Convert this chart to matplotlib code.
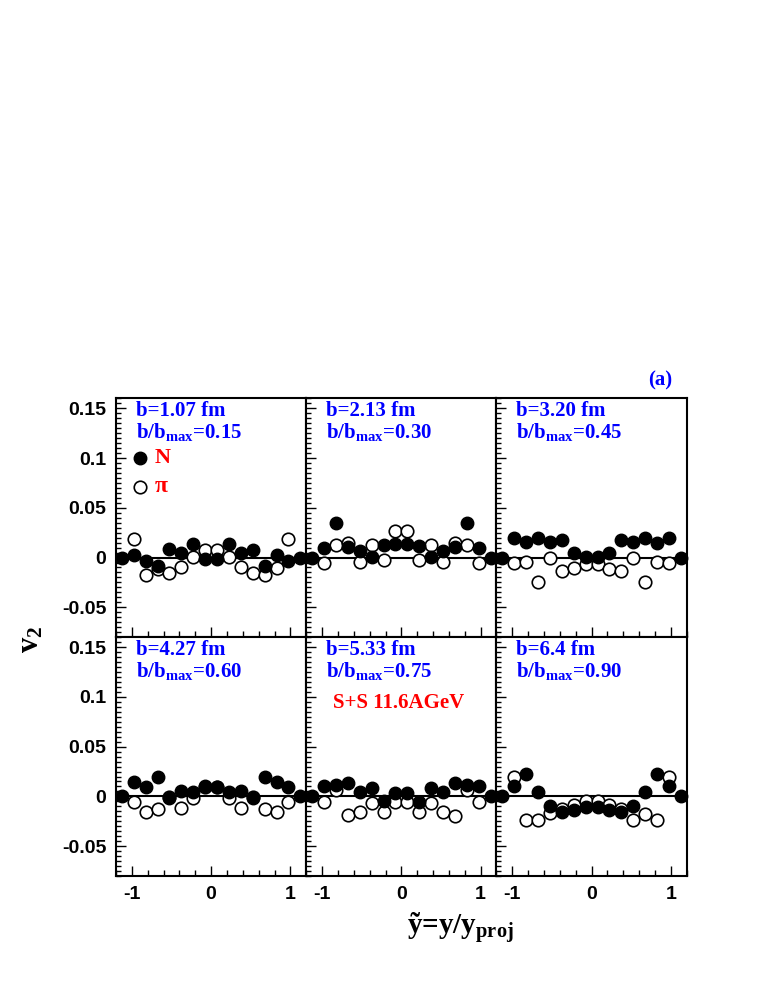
import numpy as np
import matplotlib
matplotlib.use("Agg")
import matplotlib.pyplot as plt
from matplotlib.ticker import MultipleLocator, FixedLocator

plt.rcParams.update({
    'font.family': 'Liberation Serif',
    'mathtext.fontset': 'custom',
    'mathtext.rm': 'Liberation Serif:bold',
    'mathtext.it': 'Liberation Serif:bold',
    'mathtext.bf': 'Liberation Serif:bold',
    'mathtext.default': 'rm',
    'axes.unicode_minus': False,
})

# rapidity bins (y/y_proj)
y_bins = [-1.125, -0.975, -0.825, -0.675, -0.525, -0.375, -0.225, -0.075,
          0.075, 0.225, 0.375, 0.525, 0.675, 0.825, 0.975, 1.125]
y_bins_pi = y_bins[1:-1]

b_fm = ["1.07", "2.13", "3.20", "4.27", "5.33", "6.4"]
b_frac = ["0.15", "0.30", "0.45", "0.60", "0.75", "0.90"]

# nucleons
v2_N_1 = [-0.0007, 0.0023, -0.0034, -0.009, 0.0084, 0.0044, 0.0134, -0.0017,
          -0.0017, 0.0134, 0.0044, 0.0077, -0.0084, 0.0027, -0.0034, -0.0007]
v2_N_2 = [0.0, 0.010, 0.0346, 0.011, 0.0067, 0.001, 0.0124, 0.0134,
          0.0134, 0.0117, 0.001, 0.0067, 0.011, 0.0346, 0.010, 0.0]
v2_N_3 = [0.0, 0.020, 0.016, 0.0195, 0.016, 0.0178, 0.0044, 0.001,
          0.001, 0.0044, 0.0178, 0.016, 0.0195, 0.015, 0.020, 0.0]
v2_N_4 = [0.0, 0.014, 0.009, 0.019, -0.0017, 0.005, 0.004, 0.010,
          0.009, 0.004, 0.005, -0.0017, 0.019, 0.014, 0.009, 0.0]
v2_N_5 = [0.0, 0.0107, 0.0114, 0.0134, 0.0047, 0.008, -0.0044, 0.0034,
          0.0034, -0.0054, 0.008, 0.0047, 0.0134, 0.0114, 0.0107, 0.0]
v2_N_6 = [0.0, 0.010, 0.023, 0.0047, -0.0094, -0.0154, -0.0134, -0.0104,
          -0.0104, -0.0134, -0.0154, -0.0094, 0.0047, 0.023, 0.010, 0.0]

# pions
v2_pi_1 = [0.0185, -0.0175, -0.0117, -0.0151, -0.010, 0.001, 0.0077,
           0.0077, 0.001, -0.010, -0.0151, -0.0178, -0.011, 0.0185]
v2_pi_2 = [-0.005, 0.0124, 0.015, -0.004, 0.0128, -0.0023, 0.0268,
           0.0268, -0.0023, 0.0128, -0.004, 0.015, 0.0124, -0.005]
v2_pi_3 = [-0.005, -0.0044, -0.0245, -0.0007, -0.0134, -0.011, -0.0067,
           -0.0067, -0.0117, -0.014, -0.0007, -0.0245, -0.0044, -0.005]
v2_pi_4 = [-0.006, -0.0154, -0.0128, -0.001, -0.0117, -0.002, 0.009,
           0.009, -0.002, -0.0117, -0.001, -0.0128, -0.0154, -0.0054]
v2_pi_5 = [-0.006, 0.0064, -0.0185, -0.016, -0.0067, -0.016, -0.006,
           -0.006, -0.016, -0.0067, -0.016, -0.0195, 0.0064, -0.006]
v2_pi_6 = [0.020, -0.0235, -0.0235, -0.017, -0.0128, -0.0084, -0.0044,
           -0.0044, -0.0084, -0.0128, -0.0235, -0.0178, -0.0235, 0.020]

v2_N = [v2_N_1, v2_N_2, v2_N_3, v2_N_4, v2_N_5, v2_N_6]
v2_pi = [v2_pi_1, v2_pi_2, v2_pi_3, v2_pi_4, v2_pi_5, v2_pi_6]

blue = '#0000ff'
red = '#ff0000'
sans = 'Liberation Sans'

fig = plt.figure(figsize=(7.58, 9.81), dpi=100)
axs = fig.subplots(2, 3, sharex=True, sharey=True,
                   gridspec_kw=dict(wspace=0, hspace=0))
fig.subplots_adjust(left=0.153, right=0.906, top=0.594, bottom=0.107)

for i, ax in enumerate(axs.flat):
    ax.axhline(0, color='black', lw=1.5, zorder=1)
    ax.plot(y_bins_pi, v2_pi[i], 'o', ms=9, mfc='white', mec='black',
            mew=1.2, zorder=2, clip_on=False)
    ax.plot(y_bins, v2_N[i], 'o', ms=9, mfc='black', mec='black',
            zorder=3, clip_on=False)
    ax.text(0.105, 0.924, f"b={b_fm[i]} fm", transform=ax.transAxes,
            color=blue, fontsize=15, fontweight='bold', va='baseline')
    ax.text(0.105, 0.832, r"b/b$_{\rm max}$=" + b_frac[i],
            transform=ax.transAxes, color=blue, fontsize=15,
            fontweight='bold', va='baseline')

    ax.set_xlim(-1.2, 1.2)
    ax.set_ylim(-0.08, 0.16)
    ax.xaxis.set_major_locator(FixedLocator([-1, 0, 1]))
    ax.xaxis.set_minor_locator(MultipleLocator(0.2))
    ax.yaxis.set_major_locator(FixedLocator([-0.05, 0, 0.05, 0.1, 0.15]))
    ax.yaxis.set_minor_locator(MultipleLocator(0.005))
    ax.tick_params(which='both', direction='in', top=False, right=False,
                   width=1)
    ax.tick_params(axis='x', which='major', length=7, pad=7)
    ax.tick_params(axis='x', which='minor', length=4)
    ax.tick_params(axis='y', which='major', length=7, pad=7)
    ax.tick_params(axis='y', which='minor', length=3.5)
    for sp in ax.spines.values():
        sp.set_linewidth(1.5)

for ax in axs[:, 0]:
    ax.set_yticklabels(["-0.05", "0", "0.05", "0.1", "0.15"],
                       fontfamily=sans, fontweight='bold', fontsize=14)
for ax in axs[1, :]:
    ax.set_xticklabels(["-1", "0", "1"], fontfamily=sans,
                       fontweight='bold', fontsize=14)

# legend in first panel
ax = axs[0, 0]
ax.plot([0.126], [0.752], 'o', ms=9, mfc='black', mec='black',
        transform=ax.transAxes)
ax.plot([0.126], [0.630], 'o', ms=9, mfc='white', mec='black', mew=1.2,
        transform=ax.transAxes)
ax.text(0.205, 0.752, "N", transform=ax.transAxes, color=red, fontsize=16,
        fontweight='bold', va='center')
ax.text(0.205, 0.630, "\u03c0", transform=ax.transAxes, color=red,
        fontsize=17, fontweight='bold', va='center')

axs[1, 1].text(0.14, 0.725, "S+S 11.6AGeV", transform=axs[1, 1].transAxes,
               color=red, fontsize=15, fontweight='bold', va='center')

fig.text(0.871, 0.6126, "(a)", color=blue, fontsize=15, fontweight='bold',
         ha='center', va='center')
fig.text(0.041, 0.348, r"v$_{2}$", rotation=90, fontsize=22,
         fontweight='bold', ha='center', va='center')
fig.text(0.607, 0.054, "\u1ef9=y/y$_{\\rm proj}$", fontsize=21,
         fontweight='bold', ha='center', va='center')

fig.savefig("out.png", dpi=100)
